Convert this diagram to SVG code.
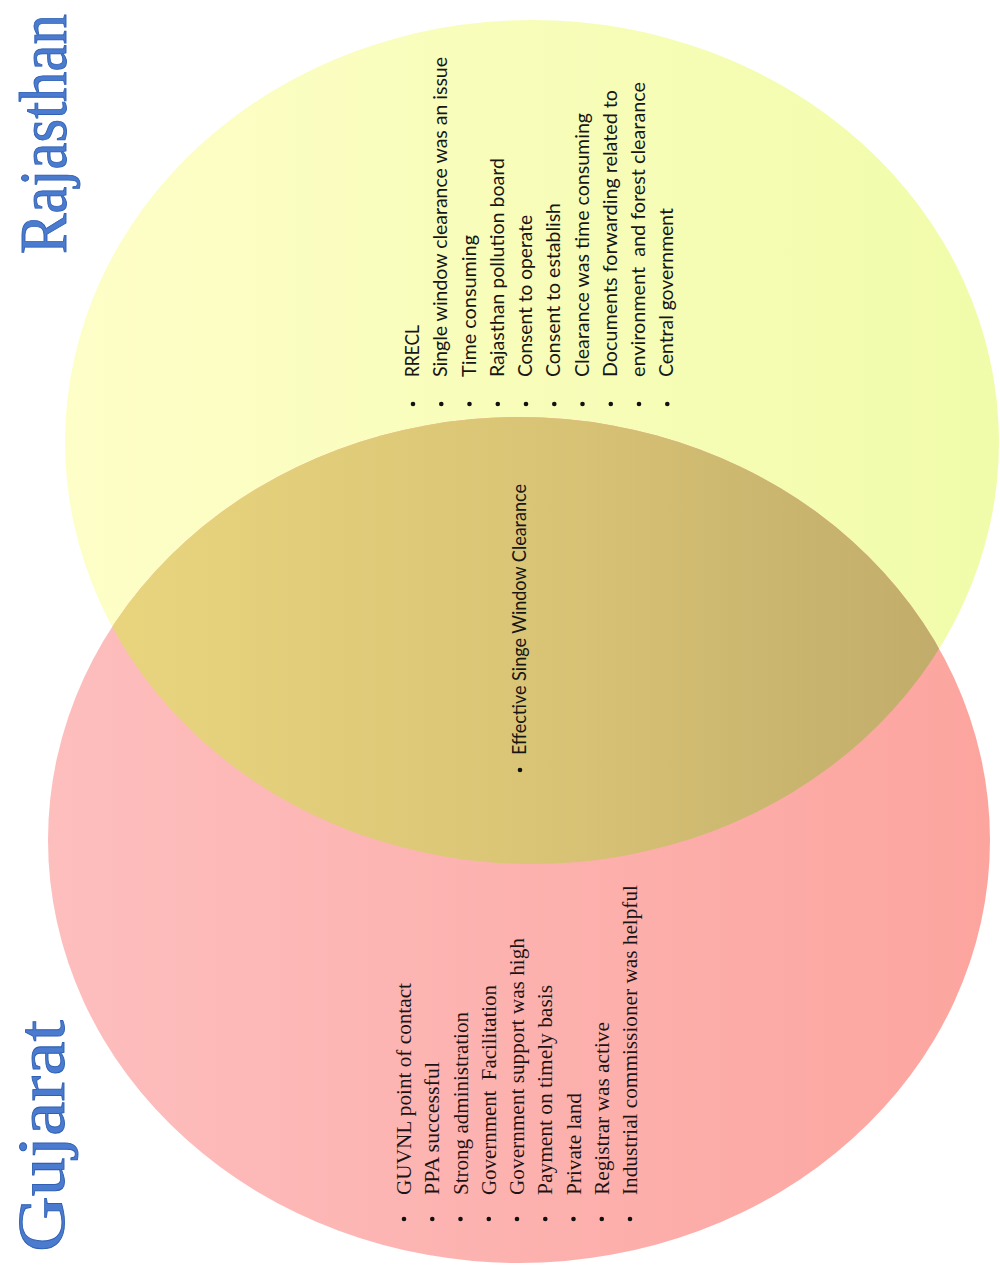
<svg xmlns="http://www.w3.org/2000/svg" width="1000" height="1268" viewBox="0 0 1000 1268">
<style>
.cal{font-family:Lato,"Open Sans","Noto Sans",sans-serif;font-size:19.5px;fill:#161616}
.tms{font-family:"Liberation Serif","Times New Roman",serif;font-size:20px;fill:#1c1414}
.ttl{font-family:"Liberation Serif","Times New Roman",serif;font-size:68px;fill:url(#blue);stroke:#2f60b3;stroke-width:0.9}
.dot{fill:#111}
.pre{white-space:pre}
</style>
<defs>
<linearGradient id="yel" gradientUnits="userSpaceOnUse" x1="60" y1="0" x2="1000" y2="0">
<stop offset="0" stop-color="#fefec8"/><stop offset="1" stop-color="#f1fcaa"/>
</linearGradient>
<linearGradient id="red" gradientUnits="userSpaceOnUse" x1="48" y1="0" x2="990" y2="0">
<stop offset="0" stop-color="#fdbebe"/><stop offset="1" stop-color="#fca59f"/>
</linearGradient>
<linearGradient id="lens" gradientUnits="userSpaceOnUse" x1="110" y1="0" x2="940" y2="0">
<stop offset="0" stop-color="#e9d47e"/><stop offset="0.5" stop-color="#dac576"/><stop offset="1" stop-color="#c1ac6b"/>
</linearGradient>
<linearGradient id="blue" gradientUnits="userSpaceOnUse" x1="10" y1="0" x2="70" y2="0">
<stop offset="0" stop-color="#4a7bcf"/><stop offset="0.5" stop-color="#3566bb"/><stop offset="1" stop-color="#2a58a8"/>
</linearGradient>
<clipPath id="yclip"><ellipse cx="532" cy="442" rx="467" ry="422"/></clipPath>
</defs>

<g id="rajasthan-circle">
<ellipse cx="532" cy="442" rx="467" ry="422" fill="url(#yel)"/>
</g>
<g id="gujarat-circle">
<ellipse cx="519" cy="840" rx="471" ry="423" fill="url(#red)"/>
</g>
<g id="overlap">
<ellipse cx="519" cy="840" rx="471" ry="423" fill="url(#lens)" clip-path="url(#yclip)"/>
</g>

<g id="connectors"/>

<g id="titles" transform="rotate(-90)">
<text class="ttl" x="-254" y="66" textLength="240" lengthAdjust="spacingAndGlyphs">Rajasthan</text>
<text class="ttl" x="-1252" y="64" textLength="232" lengthAdjust="spacingAndGlyphs">Gujarat</text>
</g>

<g id="rajasthan-list">
<g transform="rotate(-90)">
<text class="cal" x="-377" y="419" textLength="52" lengthAdjust="spacingAndGlyphs">RRECL</text>
<text class="cal" x="-377" y="447.3" textLength="320" lengthAdjust="spacingAndGlyphs">Single window clearance was an issue</text>
<text class="cal" x="-377" y="475.5" textLength="142" lengthAdjust="spacingAndGlyphs">Time consuming</text>
<text class="cal" x="-377" y="503.8" textLength="219" lengthAdjust="spacingAndGlyphs">Rajasthan pollution board</text>
<text class="cal" x="-377" y="532" textLength="162" lengthAdjust="spacingAndGlyphs">Consent to operate</text>
<text class="cal" x="-377" y="560.3" textLength="174" lengthAdjust="spacingAndGlyphs">Consent to establish</text>
<text class="cal" x="-377" y="588.5" textLength="264" lengthAdjust="spacingAndGlyphs">Clearance was time consuming</text>
<text class="cal" x="-377" y="616.8" textLength="287" lengthAdjust="spacingAndGlyphs">Documents forwarding related to</text>
<text class="cal pre" x="-377" y="645" textLength="295" lengthAdjust="spacingAndGlyphs">environment  and forest clearance</text>
<text class="cal" x="-377" y="673.3" textLength="169" lengthAdjust="spacingAndGlyphs">Central government</text>
</g>
<circle class="dot" cx="413" cy="404" r="2.3"/>
<circle class="dot" cx="441.3" cy="404" r="2.3"/>
<circle class="dot" cx="469.5" cy="404" r="2.3"/>
<circle class="dot" cx="497.8" cy="404" r="2.3"/>
<circle class="dot" cx="526" cy="404" r="2.3"/>
<circle class="dot" cx="554.3" cy="404" r="2.3"/>
<circle class="dot" cx="582.5" cy="404" r="2.3"/>
<circle class="dot" cx="610.8" cy="404" r="2.3"/>
<circle class="dot" cx="639" cy="404" r="2.3"/>
<circle class="dot" cx="667.3" cy="404" r="2.3"/>
</g>

<g id="common-list">
<g transform="rotate(-90)">
<text class="cal" x="-755" y="526" textLength="271" lengthAdjust="spacingAndGlyphs">Effective Singe Window Clearance</text>
</g>
<circle class="dot" cx="520" cy="770" r="2.3"/>
</g>

<g id="gujarat-list">
<g transform="rotate(-90)">
<text class="tms" x="-1195" y="411" textLength="212" lengthAdjust="spacingAndGlyphs">GUVNL point of contact</text>
<text class="tms" x="-1195" y="439.3" textLength="133" lengthAdjust="spacingAndGlyphs">PPA successful</text>
<text class="tms" x="-1195" y="467.5" textLength="183" lengthAdjust="spacingAndGlyphs">Strong administration</text>
<text class="tms pre" x="-1195" y="495.8" textLength="210" lengthAdjust="spacingAndGlyphs">Government  Facilitation</text>
<text class="tms" x="-1195" y="524" textLength="257" lengthAdjust="spacingAndGlyphs">Government support was high</text>
<text class="tms" x="-1195" y="552.3" textLength="210" lengthAdjust="spacingAndGlyphs">Payment on timely basis</text>
<text class="tms" x="-1195" y="580.5" textLength="102" lengthAdjust="spacingAndGlyphs">Private land</text>
<text class="tms" x="-1195" y="608.8" textLength="173" lengthAdjust="spacingAndGlyphs">Registrar was active</text>
<text class="tms" x="-1195" y="637" textLength="310" lengthAdjust="spacingAndGlyphs">Industrial commissioner was helpful</text>
</g>
<circle class="dot" cx="404" cy="1219" r="2.3"/>
<circle class="dot" cx="432.3" cy="1219" r="2.3"/>
<circle class="dot" cx="460.5" cy="1219" r="2.3"/>
<circle class="dot" cx="488.8" cy="1219" r="2.3"/>
<circle class="dot" cx="517" cy="1219" r="2.3"/>
<circle class="dot" cx="545.3" cy="1219" r="2.3"/>
<circle class="dot" cx="573.5" cy="1219" r="2.3"/>
<circle class="dot" cx="601.8" cy="1219" r="2.3"/>
<circle class="dot" cx="630" cy="1219" r="2.3"/>
</g>
</svg>
